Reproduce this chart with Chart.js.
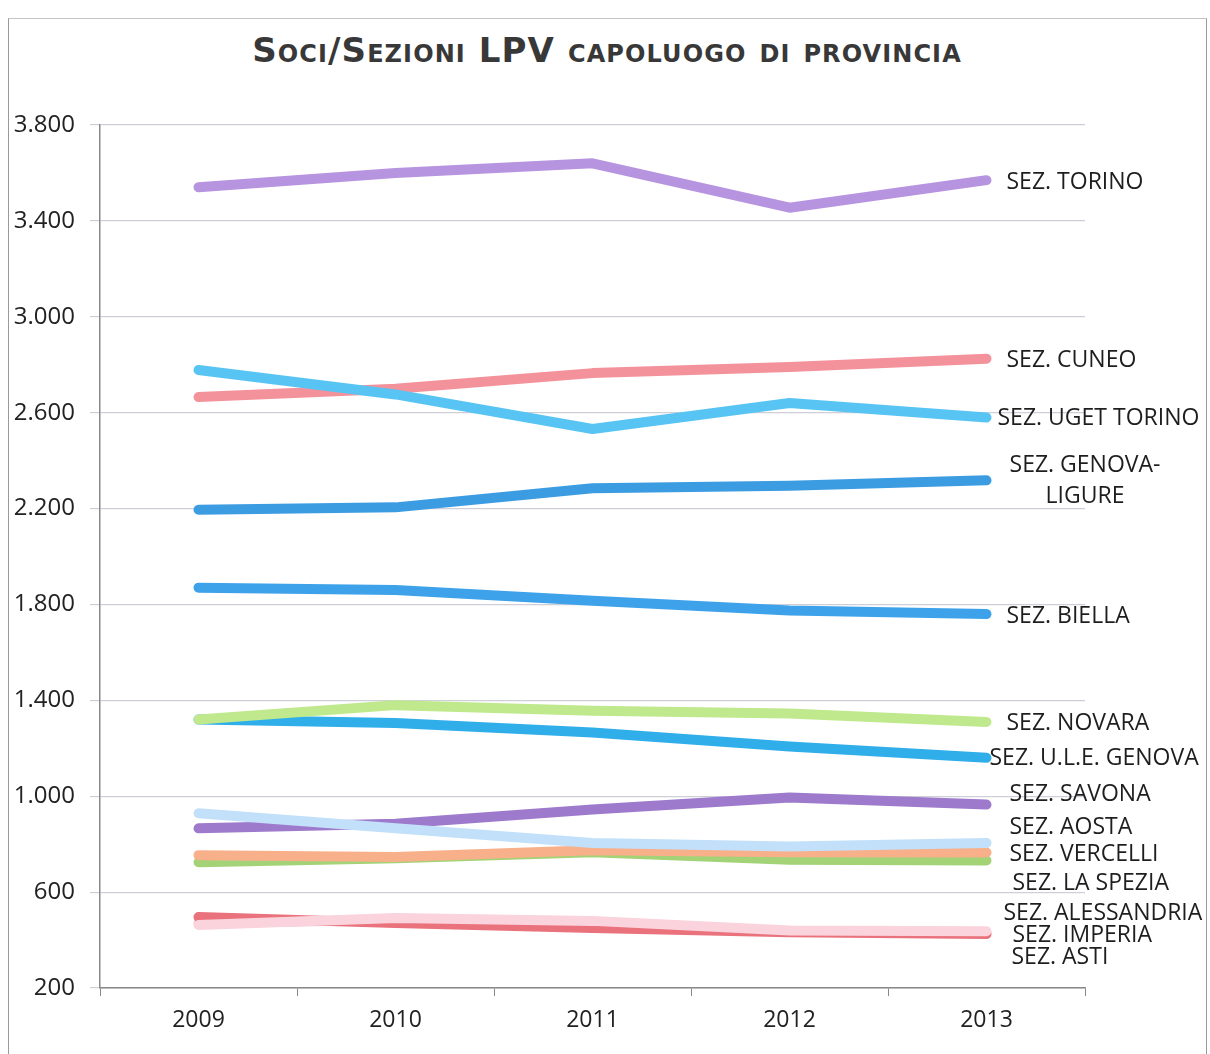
<!DOCTYPE html>
<html>
<head>
<meta charset="utf-8">
<script src="https://cdn.jsdelivr.net/npm/chart.js@4"></script>
<style>
    html, body { margin: 0; padding: 0; background: #fff; }
    #wrap { position: relative; width: 1210px; height: 1054px; overflow: hidden; }
    #frame { position: absolute; left: 8px; top: 18px; width: 1197px; height: 1040px; border: 1px solid #9a9a9a; border-top-color: #c4c4c4; }
    #titolo {
        position: absolute; left: 0; top: 30px; width: 1214px; text-align: center;
        font: small-caps bold 34px "DejaVu Sans", sans-serif; letter-spacing: 1.1px; color: #383838;
    }
    canvas { position: absolute; left: 0; top: 0; }
</style>
</head>
<body>
<div id="wrap">
    <div id="frame"></div>
    <div id="titolo">Soci/Sezioni LPV capoluogo di provincia</div>
    <canvas id="sociChart" width="1210" height="1054"></canvas>
</div>
<script>
// ── Dati ─────────────
const anni = ['2009', '2010', '2011', '2012', '2013'];
const sezioni = [
    'SEZ. TORINO', 'SEZ. CUNEO', 'SEZ. UGET TORINO', 'SEZ. GENOVA-\nLIGURE', 'SEZ. BIELLA',
    'SEZ. NOVARA', 'SEZ. U.L.E. GENOVA', 'SEZ. SAVONA', 'SEZ. AOSTA', 'SEZ. VERCELLI',
    'SEZ. LA SPEZIA', 'SEZ. ALESSANDRIA', 'SEZ. IMPERIA', 'SEZ. ASTI'
];
const torino      = [3540, 3600, 3640, 3455, 3570];
const cuneo       = [2665, 2700, 2765, 2790, 2825];
const ugetTorino  = [2778, 2676, 2532, 2640, 2580];
const genova      = [2195, 2205, 2285, 2295, 2318];
const biella      = [1870, 1860, 1815, 1775, 1760];
const novara      = [1320, 1380, 1357, 1345, 1310];
const uleGenova   = [1320, 1305, 1266, 1207, 1160];
const savona      = [866, 885, 945, 995, 965];
const aosta       = [929, 866, 805, 790, 805];
const vercelli    = [754, 746, 775, 766, 765];
const laSpezia    = [725, 741, 766, 735, 732];
const alessandria = [496, 471, 450, 433, 425];
const imperia     = [463, 492, 480, 440, 437];
const asti        = [470, 485, 472, 437, 430];
const serie = [torino, cuneo, ugetTorino, genova, biella, novara, uleGenova,
               savona, aosta, vercelli, laSpezia, alessandria, imperia, asti];
const yTicks = [200, 600, 1000, 1400, 1800, 2200, 2600, 3000, 3400, 3800];

// ── Stile ─────────────
const colori = ['#b794e0', '#f4929b', '#58c4f4', '#3c9ce2', '#3ea2ea', '#bfe98c', '#30aeea',
                '#9d7acb', '#c2e0fa', '#f8b08a', '#a4d276', '#e9727c', '#fbd3dd', '#f3c3ca'];
// ordine di disegno (minore = sopra)
const ordine = [0, 3, 2, 4, 5, 6, 7, 9, 8, 10, 11, 13, 12, 14];
// spostamento delle etichette a destra rispetto all'ultimo punto
const etichette = {
    'SEZ. UGET TORINO': { dx: 11, dy: 1 },
    'SEZ. GENOVA-\nLIGURE': { center: 1085, dy: -15 },
    'SEZ. U.L.E. GENOVA': { dx: 3, dy: 1 },
    'SEZ. SAVONA': { dx: 23, dy: -10 },
    'SEZ. AOSTA': { dx: 23, dy: -16 },
    'SEZ. VERCELLI': { dx: 23, dy: 2 },
    'SEZ. LA SPEZIA': { dx: 26, dy: 23 },
    'SEZ. ALESSANDRIA': { dx: 17, dy: -21 },
    'SEZ. IMPERIA': { dx: 26, dy: 4 },
    'SEZ. ASTI': { dx: 25, dy: 25 }
};

const puntoMigliaia = v => String(v).replace(/\B(?=(\d{3})+(?!\d))/g, '.');

const etichettePlugin = {
    id: 'etichetteFinali',
    afterDatasetsDraw(chart) {
        const ctx = chart.ctx;
        ctx.save();
        ctx.font = '23px "Open Sans", sans-serif';
        ctx.fillStyle = '#1e1e1e';
        ctx.textBaseline = 'middle';
        chart.data.datasets.forEach((ds, i) => {
            const pts = chart.getDatasetMeta(i).data;
            const last = pts[pts.length - 1];
            const cfg = etichette[ds.label] || { dx: 20, dy: 2 };
            const righe = ds.label.split('\n');
            righe.forEach((r, k) => {
                const y = last.y + cfg.dy + k * 31;
                if (cfg.center) {
                    ctx.textAlign = 'center';
                    ctx.fillText(r, cfg.center, y);
                } else {
                    ctx.textAlign = 'left';
                    ctx.fillText(r, last.x + cfg.dx, y);
                }
            });
        });
        ctx.restore();
    }
};

(function () {
    const ctx = document.getElementById('sociChart');

    new Chart(ctx, {
        type: 'line',
        data: {
            labels: anni,
            datasets: sezioni.map((nome, i) => ({
                label: nome,
                data: serie[i],
                borderColor: colori[i],
                backgroundColor: colori[i],
                borderWidth: 10,
                borderCapStyle: 'round',
                borderJoinStyle: 'round',
                pointRadius: 0,
                tension: 0,
                order: ordine[i]
            }))
        },
        options: {
            responsive: false,
            animation: false,
            layout: { padding: { left: 10, right: 125, top: 125, bottom: 0 } },
            scales: {
                x: {
                    offset: true,
                    afterFit: s => { s.height = 66; },
                    grid: { drawOnChartArea: false, drawTicks: true, tickLength: 8, color: '#888', offset: true },
                    border: { color: '#888', width: 1.5 },
                    ticks: { color: '#222', padding: 11, font: { family: '"Open Sans", sans-serif', size: 23 } }
                },
                y: {
                    min: 200,
                    max: 3800,
                    afterFit: s => { s.width = 90; },
                    afterBuildTicks: s => { s.ticks = yTicks.map(v => ({ value: v })); },
                    grid: { color: '#cfcfd8', lineWidth: 1.2, tickLength: 10 },
                    border: { color: '#888', width: 1.5 },
                    ticks: {
                        color: '#222',
                        padding: 15,
                        font: { family: '"Open Sans", sans-serif', size: 24 },
                        callback: v => puntoMigliaia(v)
                    }
                }
            },
            plugins: {
                legend: { display: false },
                title: { display: false },
                tooltip: { enabled: false }
            }
        },
        plugins: [etichettePlugin]
    });
})();
</script>
</body>
</html>
